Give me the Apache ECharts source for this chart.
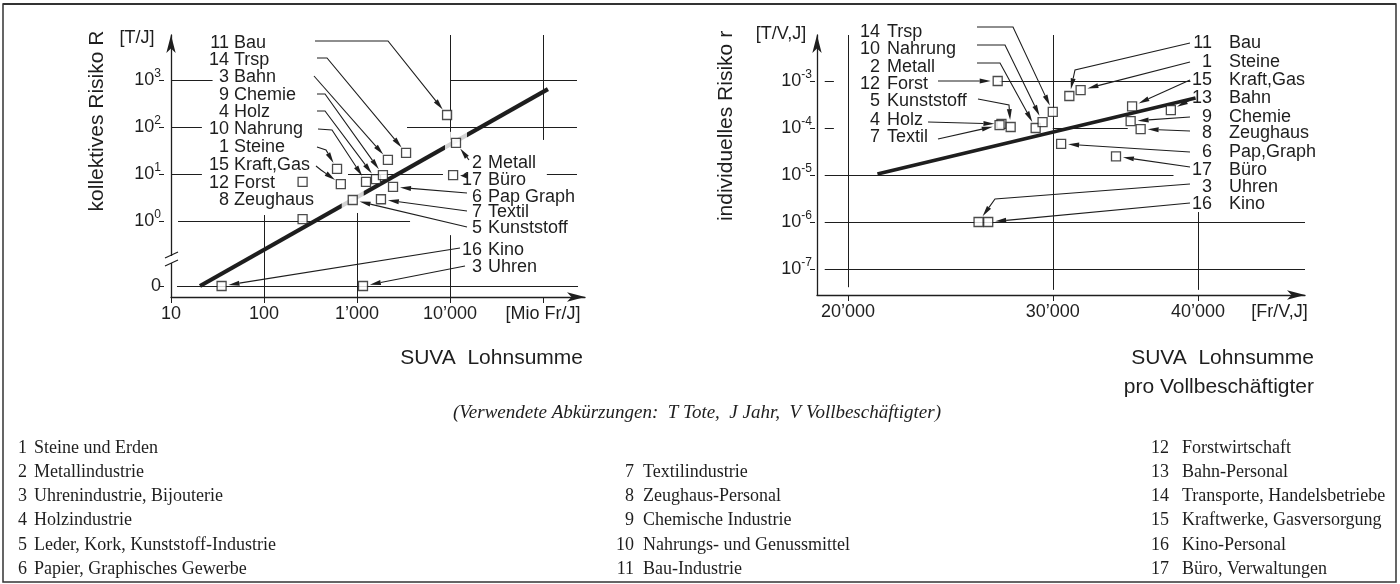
<!DOCTYPE html>
<html><head><meta charset="utf-8">
<script src="https://cdn.jsdelivr.net/npm/echarts@6/dist/echarts.min.js"></script>
<style>html,body{margin:0;padding:0;background:#fff}#c{width:1400px;height:584px}</style>
</head><body><div id="c"></div>
<script>
// ================= DATA =================
const branchNo = [1,2,3,4,5,6,7,8,9,10,11,12,13,14,15,16,17];
const branchName = ['Steine und Erden','Metallindustrie','Uhrenindustrie, Bijouterie','Holzindustrie',
  'Leder, Kork, Kunststoff-Industrie','Papier, Graphisches Gewerbe','Textilindustrie','Zeughaus-Personal',
  'Chemische Industrie','Nahrungs- und Genussmittel','Bau-Industrie','Forstwirtschaft','Bahn-Personal',
  'Transporte, Handelsbetriebe','Kraftwerke, Gasversorgung','Kino-Personal','Büro, Verwaltungen'];

// left chart: SUVA Lohnsumme [Mio Fr/J] vs kollektives Risiko R [T/J] (0 = no fatality)
const lohnsumme  = [610, 11600, 1160, 1600, 900, 2440, 1810, 260, 1900, 1250, 9300, 260, 2150, 3370, 670, 35, 10800];
const kollRisiko = [12.8, 46, 0, 7.8, 2.8, 5.3, 2.9, 1.1, 9.5, 6.8, 180, 6.8, 20, 28, 6.1, 0, 9.5];
const leftShort  = ['Steine','Metall','Uhren','Holz','Kunststoff','Pap Graph','Textil','Zeughaus','Chemie','Nahrung','Bau','Forst','Bahn','Trsp','Kraft,Gas','Kino','Büro'];
const leftNoText = ['1','2','3','4','5','6','7','8','9','10','11','12','3','14','15','16','17']; // as printed ("3 Bahn")

// right chart: SUVA Lohnsumme pro Vollbeschäftigter [Fr/V,J] vs individuelles Risiko r [T/V,J]
const lohnProV   = [31700, 29000, 25900, 27100, 27600, 30500, 27000, 35700, 35000, 29400, 31000, 26900, 37900, 30000, 35100, 26400, 34000];
const indRisiko  = [6.4e-4, 1.0e-4, 1.0e-6, 1.22e-4, 1.05e-4, 4.6e-5, 1.15e-4, 9.5e-5, 1.4e-4, 1.34e-4, 4.8e-4, 1.0e-3, 2.4e-4, 2.2e-4, 2.9e-4, 1.0e-6, 2.5e-5];
const rightShort = ['Steine','Metall','Uhren','Holz','Kunststoff','Pap,Graph','Textil','Zeughaus','Chemie','Nahrung','Bau','Forst','Bahn','Trsp','Kraft,Gas','Kino','Büro'];

// trend lines
const trendLeftX  = [20.5, 113000];
const trendLeftR  = [0, 640];
const trendRightX = [21200, 39800];
const trendRightR = [1.05e-5, 4.35e-4];

// ticks
const leftXTicks = [10, 100, 1000, 10000, 100000];
const leftXTickLabels = ['10', '100', '1’000', '10’000', '[Mio Fr/J]'];
const leftYTicks = [0, 1, 10, 100, 1000];
const leftYTickExp = ['', '0', '1', '2', '3'];
const rightXTicks = [20000, 30000, 40000];
const rightXLabelValues = [20000, 30000, 40000, 47000];
const rightXTickLabels = ['20’000', '30’000', '40’000', '[Fr/V,J]'];
const rightYTicks = [1e-7, 1e-6, 1e-5, 1e-4, 1e-3];
const rightYTickExp = ['-7', '-6', '-5', '-4', '-3'];

// ================= LAYOUT / STYLE =================
const INK = '#1e1e1e';
const SANS = 'Liberation Sans';
const SERIF = 'Liberation Serif';
const ZERO_EXP = -1.383;          // position of the "0" row below the axis break
const AXIS_BREAK_EXP = -0.83;
const L_MIN = -1.617, L_MAX = 3.957;
const yExp = v => v > 0 ? Math.log10(v) : ZERO_EXP;

// grid segments (data space). left: [R, x1, x2] / [x, R1, R2]; 'lo'/'hi' = axis ends
const leftGridH = [[1000,10,28],[1000,10000,232000],[100,10,21.5],[100,3450,232000],[10,10,21.5],[10,800,8400],[10,110000,232000],[1,11.9,3720],[0,11.6,238000]];
const leftGridV = [[100,1.34,'lo'],[1000,1.48,'lo'],[10000,'hi',53],[10000,0.5,'lo'],[100000,'hi',53]];
const rightGridH = [[1e-3,19100,19450],[1e-3,27000,39400],[1e-4,19100,19450],[1e-4,30000,34800],[1e-5,19100,38100],[1e-6,19100,49430],[1e-7,19100,49430]];
const rightGridV = [[20000,4.1e-8,'hi'],[30000,3.6e-8,'hi'],[40000,3.6e-8,1.63e-6]];
const leftHaloBranches = [2, 5];

const leftLabels = [
 {b:11,c:'a',y:43,path:[[315,41],[388,41]]},{b:14,c:'a',y:60,path:[[317,58],[327,58]]},
 {b:13,c:'a',y:77,path:[[314,76]]},{b:9,c:'a',y:95,path:[[317,94],[325,94]]},
 {b:4,c:'a',y:112,path:[[317,111],[325,111]]},{b:10,c:'a',y:129,path:[[318,129],[332,130]]},
 {b:1,c:'a',y:147,path:[[317,147],[326,150]]},{b:15,c:'a',y:165,path:[[316,166],[321,170]]},
 {b:12,c:'a',y:183,path:null},{b:8,c:'a',y:200,path:null},
 {b:2,c:'b',y:163,path:[[469,160]]},{b:17,c:'b',y:180,path:[[467,176]]},
 {b:6,c:'b',y:197,path:[[467,193]]},{b:7,c:'b',y:212,path:[[467,211]]},
 {b:5,c:'b',y:228,path:[[467,227]]},{b:16,c:'b',y:250,path:[[460,248]]},
 {b:3,c:'b',y:267,path:[[465,266]]}
];
const leftCols = {a:{nx:229,tx:234}, b:{nx:482,tx:488}};
const rightLabels = [
 {b:14,c:'a',y:32,path:[[977,27],[1013,27]]},{b:10,c:'a',y:49,path:[[977,45],[1005,45]]},
 {b:2,c:'a',y:67,path:[[977,63],[1000,63]]},{b:12,c:'a',y:84,path:[[938,81]]},
 {b:5,c:'a',y:101,path:[[978,99],[1009,105]]},{b:4,c:'a',y:120,path:[[928,122]]},
 {b:7,c:'a',y:137,path:[[938,139]]},
 {b:11,c:'b',y:43,path:[[1190,43],[1075,70]]},{b:1,c:'b',y:62,path:[[1190,62]]},
 {b:15,c:'b',y:80,path:[[1190,80]]},{b:13,c:'b',y:98,path:[[1190,100]]},
 {b:9,c:'b',y:117,path:[[1190,117]]},{b:8,c:'b',y:133,path:[[1190,131]]},
 {b:6,c:'b',y:152,path:[[1190,152]]},{b:17,c:'b',y:170,path:[[1190,167]]},
 {b:3,c:'b',y:187,path:[[1190,184],[995,199]]},{b:16,c:'b',y:204,path:[[1190,203]]}
];
const rightCols = {a:{nx:880,tx:887}, b:{nx:1212,tx:1229}};

// ================= CHART =================
const chart = echarts.init(document.getElementById('c'), null, {renderer:'canvas'});
const idx = b => b - 1;
const supRich = {s:{fontSize:12, lineHeight:12, verticalAlign:'top', fontFamily:SANS, color:INK}};
const axisFont = {fontFamily:SANS, fontSize:18, color:INK};
const arrowLine = {show:true, onZero:false, symbol:['none','arrow'], symbolSize:[7,18], lineStyle:{color:INK, width:1.3}};
const near = (arr, v, log) => arr.findIndex(t => Math.abs((log ? Math.log10(t) : t) - (log ? Math.log10(v) : v)) < 1e-6);

const leftYVals = leftYTicks.map(yExp);
const L = (x, r) => [x, r === 'lo' ? L_MIN : r === 'hi' ? L_MAX : yExp(r)];
const R_MINY = 2.8e-8, R_MAXY = 9.53e-3;
const Rr = (x, r) => [x, r === 'lo' ? R_MINY : r === 'hi' ? R_MAXY : r];

const option = {
  animation:false, backgroundColor:'#ffffff',
  grid:[{left:171, top:35, width:414, height:262},{left:817, top:35, width:488, height:260}],
  xAxis:[
    {type:'log', gridIndex:0, min:10, max:282900, axisLine:arrowLine,
     axisTick:{show:true, customValues:leftXTicks, length:6, lineStyle:{color:INK}},
     axisLabel:Object.assign({customValues:leftXTicks, margin:8, formatter:v => leftXTickLabels[near(leftXTicks, v, true)] || ''}, axisFont),
     splitLine:{show:false}, minorTick:{show:false}},
    {type:'log', gridIndex:1, min:18810, max:49430, axisLine:arrowLine,
     axisTick:{show:true, customValues:rightXTicks, length:6, lineStyle:{color:INK}},
     axisLabel:Object.assign({customValues:rightXLabelValues, margin:8, formatter:v => rightXTickLabels[near(rightXLabelValues, v, true)] || ''}, axisFont),
     splitLine:{show:false}}
  ],
  yAxis:[
    {type:'value', gridIndex:0, position:'left', offset:7, min:L_MIN, max:L_MAX, axisLine:{show:false, onZero:false},
     axisTick:{show:true, customValues:leftYVals, length:5, lineStyle:{color:INK}},
     axisLabel:Object.assign({customValues:leftYVals, margin:3, lineHeight:24, rich:supRich,
       formatter:v => { const i = near(leftYVals, v, false); return i === 0 ? '0' : '10{s|' + leftYTickExp[i] + '}'; }}, axisFont),
     splitLine:{show:false}},
    {type:'value', gridIndex:0, position:'left', offset:0, min:L_MIN, max:L_MAX, axisLine:arrowLine,
     axisTick:{show:false}, axisLabel:{show:false}, splitLine:{show:false}},
    {type:'log', gridIndex:1, position:'left', offset:2, min:R_MINY, max:R_MAXY, axisLine:{show:false, onZero:false},
     axisTick:{show:true, customValues:rightYTicks, length:5, lineStyle:{color:INK}},
     axisLabel:Object.assign({customValues:rightYTicks, margin:3, lineHeight:24, rich:supRich,
       formatter:v => '10{s|' + rightYTickExp[near(rightYTicks, v, true)] + '}'}, axisFont),
     splitLine:{show:false}},
    {type:'log', gridIndex:1, position:'left', offset:0, min:R_MINY, max:R_MAXY, axisLine:arrowLine,
     axisTick:{show:false}, axisLabel:{show:false}, splitLine:{show:false}}
  ],
  series:[
    {type:'lines', coordinateSystem:'cartesian2d', xAxisIndex:0, yAxisIndex:0, silent:true, z:1,
     lineStyle:{color:INK, width:1, opacity:1}, symbol:'none',
     data:[...leftGridH.map(g => ({coords:[L(g[1], g[0]), L(g[2], g[0])]})),
           ...leftGridV.map(g => ({coords:[L(g[0], g[1]), L(g[0], g[2])]}))]},
    {type:'line', xAxisIndex:0, yAxisIndex:0, silent:true, z:2, symbol:'none',
     lineStyle:{color:INK, width:4.2, cap:'butt'},
     data:trendLeftX.map((x,i) => [x, yExp(trendLeftR[i])])},
    {type:'scatter', xAxisIndex:0, yAxisIndex:0, silent:true, z:3, symbol:'rect', symbolSize:22,
     itemStyle:{color:'#ffffff', borderWidth:0},
     data:leftHaloBranches.map(b => [lohnsumme[idx(b)], yExp(kollRisiko[idx(b)])])},
    {type:'scatter', xAxisIndex:0, yAxisIndex:0, z:4, symbol:'rect', symbolSize:9,
     itemStyle:{color:'#ffffff', borderColor:INK, borderWidth:1.3},
     data:branchNo.map((b,i) => [lohnsumme[i], yExp(kollRisiko[i])])},
    {type:'lines', coordinateSystem:'cartesian2d', xAxisIndex:1, yAxisIndex:2, silent:true, z:1,
     lineStyle:{color:INK, width:1, opacity:1}, symbol:'none',
     data:[...rightGridH.map(g => ({coords:[Rr(g[1], g[0]), Rr(g[2], g[0])]})),
           ...rightGridV.map(g => ({coords:[Rr(g[0], g[1]), Rr(g[0], g[2])]}))]},
    {type:'line', xAxisIndex:1, yAxisIndex:2, silent:true, z:2, symbol:'none',
     lineStyle:{color:INK, width:3.8, cap:'butt'},
     data:trendRightX.map((x,i) => [x, trendRightR[i]])},
    {type:'scatter', xAxisIndex:1, yAxisIndex:2, z:4, symbol:'rect', symbolSize:9,
     itemStyle:{color:'#ffffff', borderColor:INK, borderWidth:1.3},
     data:branchNo.map((b,i) => [lohnProV[i], indRisiko[i]])}
  ]
};
chart.setOption(option);

// ================= ANNOTATIONS =================
const G = [];
const txt = (text, x, y, opt) => G.push(Object.assign({type:'text', silent:true, z:60, x, y,
  style:Object.assign({text, fill:INK, font:'18px "' + SANS + '"', align:'left', verticalAlign:'middle',
    textAlign:'left', textVerticalAlign:'middle'}, opt && opt.style || {})}, opt && opt.el || {}));

function leader(points, end, gap) {
  const last = points[points.length - 1];
  let dx = end[0] - last[0], dy = end[1] - last[1];
  const len = Math.hypot(dx, dy); dx /= len; dy /= len;
  const tip = [end[0] - dx * gap, end[1] - dy * gap];
  const ah = Math.min(11, Math.max(5, len - gap));
  const base = [tip[0] - dx * ah, tip[1] - dy * ah];
  const w = 2.5;
  G.push({type:'polyline', silent:true, z:50, shape:{points:[...points, base]}, style:{stroke:INK, lineWidth:1.1, fill:null}});
  G.push({type:'polygon', silent:true, z:50, shape:{points:[tip, [base[0] - dy * w, base[1] + dx * w], [base[0] + dy * w, base[1] - dx * w]]}, style:{fill:INK, stroke:null}});
}

function labels(list, cols, noText, shortText, toPx) {
  list.forEach(l => {
    const c = cols[l.c], i = idx(l.b);
    txt(noText[i], c.nx, l.y, {style:{align:'right', textAlign:'right'}});
    txt(shortText[i], c.tx, l.y);
    if (l.path) leader(l.path, toPx(i), 7);
  });
}
labels(leftLabels, leftCols, leftNoText, leftShort, i => chart.convertToPixel({seriesIndex:3}, [lohnsumme[i], yExp(kollRisiko[i])]));
labels(rightLabels, rightCols, branchNo.map(String), rightShort, i => chart.convertToPixel({seriesIndex:6}, [lohnProV[i], indRisiko[i]]));

// axis break on the left y axis
const bp = chart.convertToPixel({seriesIndex:3}, [10, AXIS_BREAK_EXP]);
G.push({type:'rect', silent:true, z:55, shape:{x:bp[0] - 4, y:bp[1] - 4, width:8, height:7}, style:{fill:'#ffffff'}});
G.push({type:'line', silent:true, z:56, shape:{x1:bp[0] - 6, y1:bp[1] - 2, x2:bp[0] + 7, y2:bp[1] - 8}, style:{stroke:INK, lineWidth:1.2}});
G.push({type:'line', silent:true, z:56, shape:{x1:bp[0] - 6, y1:bp[1] + 6, x2:bp[0] + 7, y2:bp[1]}, style:{stroke:INK, lineWidth:1.2}});

// axis titles and units
txt('kollektives Risiko R', 97, 121, {style:{align:'center', textAlign:'center', font:'21px "' + SANS + '"'}, el:{rotation:Math.PI / 2}});
txt('individuelles Risiko r', 726, 126, {style:{align:'center', textAlign:'center', font:'21px "' + SANS + '"'}, el:{rotation:Math.PI / 2}});
txt('[T/J]', 137, 38, {style:{align:'center', textAlign:'center'}});
txt('[T/V,J]', 781, 34, {style:{align:'center', textAlign:'center'}});
txt('SUVA  Lohnsumme', 583, 358, {style:{align:'right', textAlign:'right', font:'21px "' + SANS + '"'}});
txt('SUVA  Lohnsumme', 1314, 358, {style:{align:'right', textAlign:'right', font:'21px "' + SANS + '"'}});
txt('pro Vollbeschäftigter', 1314, 387, {style:{align:'right', textAlign:'right', font:'21px "' + SANS + '"'}});
txt('(Verwendete Abkürzungen:  T Tote,  J Jahr,  V Vollbeschäftigter)', 697, 413,
    {style:{align:'center', textAlign:'center', font:'italic 19px "' + SERIF + '"'}});

// legend of branches
const legendCols = [{from:1, to:6, row0:0, nx:27, tx:34}, {from:7, to:11, row0:1, nx:634, tx:643}, {from:12, to:17, row0:0, nx:1169, tx:1182}];
legendCols.forEach(c => {
  for (let b = c.from; b <= c.to; b++) {
    const y = 448 + (c.row0 + b - c.from) * 24.2;
    txt(String(b), c.nx, y, {style:{align:'right', textAlign:'right', font:'18px "' + SERIF + '"'}});
    txt(branchName[idx(b)], c.tx, y, {style:{font:'18px "' + SERIF + '"'}});
  }
});

// frame
G.push({type:'rect', silent:true, z:70, shape:{x:3, y:4, width:1393, height:578}, style:{fill:null, stroke:'#333', lineWidth:1.5}});
G.push({type:'line', silent:true, z:70, shape:{x1:3, y1:4, x2:1396, y2:4}, style:{stroke:'#333', lineWidth:2}});

chart.setOption({graphic:{elements:G}});
</script></body></html>
